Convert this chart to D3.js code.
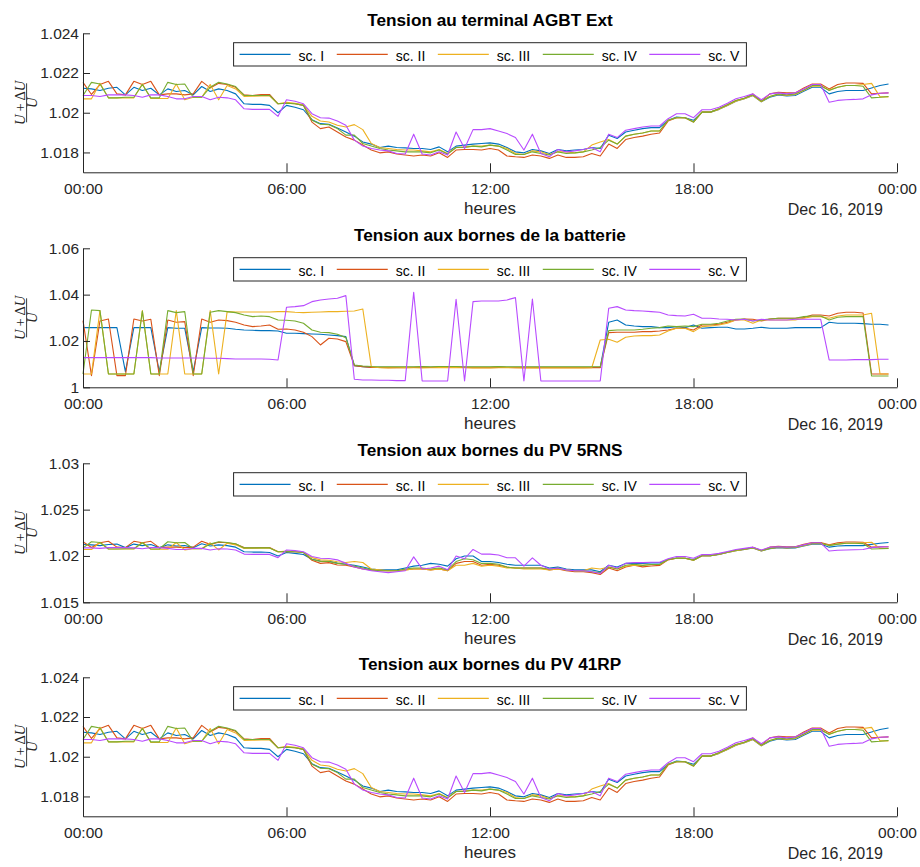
<!DOCTYPE html>
<html><head><meta charset="utf-8">
<script src="https://cdn.jsdelivr.net/npm/d3@7"></script>
<style>body{margin:0;background:#fff}svg{display:block}</style>
</head><body>
<svg id="chart" width="920" height="867"></svg>
<script>
// ---------- labels ----------
const scenarios = ["sc. I", "sc. II", "sc. III", "sc. IV", "sc. V"];
const seriesColors = ["#0072BD", "#D95319", "#EDB120", "#77AC30", "#B84BFF"];
const panelTitles = ["Tension au terminal AGBT Ext", "Tension aux bornes de la batterie",
  "Tension aux bornes du PV 5RNS", "Tension aux bornes du PV 41RP"];
const xTickHours = [0, 6, 12, 18, 24];
const xTickLabels = ["00:00", "06:00", "12:00", "18:00", "00:00"];
const xAxisLabel = "heures";
const dateLabel = "Dec 16, 2019";
const yTicksAGBT = [1.018, 1.02, 1.022, 1.024];
const yTickLabelsAGBT = ["1.018", "1.02", "1.022", "1.024"];
const yTicksBat = [1, 1.02, 1.04, 1.06];
const yTickLabelsBat = ["1", "1.02", "1.04", "1.06"];
const yTicksPV5 = [1.015, 1.02, 1.025, 1.03];
const yTickLabelsPV5 = ["1.015", "1.02", "1.025", "1.03"];
const yDomainAGBT = [1.017, 1.024];
const yDomainBat = [1, 1.06];
const yDomainPV5 = [1.015, 1.03];
const sampleStepMinutes = 15;
const sampleCount = 96;

// ---------- panel 1 : AGBT Ext (also PV 41RP) ----------
const agbt_I = [1.02123,1.02120,1.02112,1.02123,1.02128,1.02090,1.02128,1.02112,1.02123,1.02090,
1.02120,1.02107,1.02112,1.02090,1.02132,1.02107,1.02120,1.02112,1.02095,1.02045,
1.02042,1.02042,1.02037,1.02000,1.02037,1.02028,1.02015,1.01965,1.01945,1.01942,
1.01923,1.01903,1.01882,1.01853,1.01842,1.01825,1.01832,1.01825,1.01823,1.01820,
1.01820,1.01815,1.01828,1.01803,1.01832,1.01837,1.01842,1.01845,1.01848,1.01842,
1.01825,1.01803,1.01798,1.01815,1.01808,1.01795,1.01815,1.01808,1.01812,1.01815,
1.01825,1.01820,1.01887,1.01870,1.01903,1.01912,1.01920,1.01925,1.01925,1.01962,
1.01978,1.01975,1.01962,1.02003,1.02003,1.02017,1.02037,1.02058,1.02070,1.02087,
1.02055,1.02078,1.02090,1.02085,1.02087,1.02108,1.02128,1.02128,1.02095,1.02107,
1.02112,1.02112,1.02112,1.02125,1.02137,1.02145];
const agbt_II = [1.02153,1.02092,1.02142,1.02158,1.02095,1.02090,1.02158,1.02142,1.02158,1.02090,
1.02095,1.02095,1.02090,1.02095,1.02158,1.02125,1.02148,1.02142,1.02128,1.02090,
1.02087,1.02092,1.02092,1.02045,1.02048,1.02045,1.02037,1.01953,1.01920,1.01928,
1.01903,1.01878,1.01862,1.01837,1.01812,1.01798,1.01803,1.01792,1.01787,1.01782,
1.01787,1.01782,1.01798,1.01775,1.01812,1.01815,1.01815,1.01812,1.01820,1.01812,
1.01782,1.01778,1.01775,1.01787,1.01782,1.01770,1.01787,1.01775,1.01775,1.01778,
1.01795,1.01782,1.01842,1.01820,1.01865,1.01875,1.01882,1.01892,1.01898,1.01958,
1.01975,1.01975,1.01953,1.02003,1.02003,1.02020,1.02040,1.02062,1.02073,1.02095,
1.02058,1.02095,1.02103,1.02100,1.02100,1.02125,1.02145,1.02145,1.02120,1.02142,
1.02150,1.02150,1.02148,1.02095,1.02098,1.02100];
const agbt_III = [1.02070,1.02070,1.02148,1.02075,1.02075,1.02075,1.02075,1.02145,1.02072,1.02072,
1.02072,1.02145,1.02065,1.02078,1.02078,1.02142,1.02065,1.02137,1.02120,1.02082,
1.02083,1.02085,1.02085,1.02045,1.02053,1.02048,1.02040,1.01982,1.01958,1.01953,
1.01937,1.01928,1.01940,1.01915,1.01845,1.01825,1.01820,1.01815,1.01812,1.01812,
1.01808,1.01803,1.01815,1.01795,1.01825,1.01828,1.01832,1.01832,1.01837,1.01832,
1.01820,1.01795,1.01790,1.01808,1.01803,1.01790,1.01803,1.01803,1.01798,1.01803,
1.01837,1.01853,1.01865,1.01842,1.01882,1.01892,1.01898,1.01908,1.01908,1.01962,
1.01975,1.01975,1.01953,1.02003,1.02003,1.02017,1.02037,1.02058,1.02070,1.02087,
1.02055,1.02082,1.02092,1.02087,1.02092,1.02112,1.02133,1.02133,1.02115,1.02128,
1.02137,1.02137,1.02142,1.02148,1.02080,1.02080];
const agbt_IV = [1.02087,1.02153,1.02145,1.02075,1.02075,1.02078,1.02078,1.02142,1.02075,1.02075,
1.02153,1.02142,1.02145,1.02078,1.02078,1.02128,1.02153,1.02145,1.02132,1.02087,
1.02087,1.02087,1.02087,1.02045,1.02048,1.02045,1.02037,1.01962,1.01942,1.01940,
1.01920,1.01887,1.01887,1.01845,1.01832,1.01820,1.01812,1.01808,1.01803,1.01803,
1.01803,1.01798,1.01812,1.01792,1.01825,1.01825,1.01832,1.01828,1.01837,1.01832,
1.01812,1.01790,1.01790,1.01803,1.01795,1.01787,1.01803,1.01795,1.01798,1.01803,
1.01812,1.01825,1.01862,1.01842,1.01882,1.01892,1.01898,1.01908,1.01908,1.01962,
1.01975,1.01975,1.01953,1.02003,1.02003,1.02020,1.02040,1.02062,1.02073,1.02090,
1.02058,1.02082,1.02095,1.02090,1.02095,1.02115,1.02137,1.02137,1.02112,1.02128,
1.02137,1.02137,1.02133,1.02075,1.02078,1.02082];
const agbt_V = [1.02087,1.02087,1.02082,1.02090,1.02090,1.02090,1.02087,1.02078,1.02090,1.02090,
1.02082,1.02070,1.02070,1.02082,1.02082,1.02065,1.02078,1.02075,1.02065,1.02020,
1.02017,1.02017,1.02017,1.01982,1.02065,1.02058,1.02045,1.01995,1.01975,1.01973,
1.01958,1.01937,1.01862,1.01832,1.01820,1.01812,1.01808,1.01795,1.01792,1.01892,
1.01792,1.01787,1.01803,1.01787,1.01903,1.01820,1.01915,1.01915,1.01920,1.01908,
1.01895,1.01875,1.01812,1.01892,1.01795,1.01778,1.01815,1.01803,1.01808,1.01815,
1.01825,1.01803,1.01892,1.01875,1.01912,1.01920,1.01928,1.01933,1.01933,1.01970,
1.01995,1.01995,1.01975,1.02015,1.02015,1.02028,1.02048,1.02070,1.02082,1.02095,
1.02065,1.02095,1.02100,1.02095,1.02100,1.02120,1.02142,1.02142,1.02053,1.02062,
1.02065,1.02067,1.02070,1.02090,1.02098,1.02100];

// ---------- panel 2 : batterie ----------
const bat_I = [1.02575,1.02575,1.02575,1.02575,1.02575,1.00676,1.02575,1.02575,1.02575,1.00676,
1.02575,1.02547,1.02547,1.00676,1.02575,1.02561,1.02561,1.02547,1.02504,1.02475,
1.02460,1.02446,1.02446,1.02432,1.02331,1.02331,1.02317,1.02302,1.02288,1.02259,
1.02230,1.02187,1.00935,1.00892,1.00870,1.00865,1.00860,1.00865,1.00860,1.00865,
1.00870,1.00865,1.00870,1.00875,1.00870,1.00865,1.00860,1.00865,1.00860,1.00870,
1.00865,1.00860,1.00860,1.00865,1.00860,1.00860,1.00865,1.00860,1.00860,1.00865,
1.00860,1.00860,1.02806,1.02906,1.02691,1.02647,1.02619,1.02619,1.02575,1.02575,
1.02619,1.02575,1.02691,1.02547,1.02575,1.02590,1.02590,1.02518,1.02518,1.02547,
1.02590,1.02547,1.02547,1.02547,1.02575,1.02575,1.02575,1.02575,1.02806,1.02763,
1.02763,1.02763,1.02748,1.02719,1.02719,1.02691];
const bat_II = [1.02878,1.00504,1.02863,1.02950,1.00504,1.00504,1.02950,1.02863,1.02935,1.00504,
1.02906,1.02806,1.02835,1.00504,1.02950,1.02806,1.02906,1.02878,1.02806,1.02691,
1.02619,1.02647,1.02691,1.02504,1.02518,1.02475,1.02374,1.02187,1.01827,1.02115,
1.02086,1.01971,1.00935,1.00892,1.00860,1.00855,1.00850,1.00855,1.00850,1.00855,
1.00860,1.00855,1.00860,1.00865,1.00860,1.00855,1.00850,1.00855,1.00850,1.00860,
1.00855,1.00850,1.00850,1.00855,1.00850,1.00850,1.00855,1.00850,1.00850,1.00855,
1.00850,1.00850,1.02360,1.02374,1.02374,1.02374,1.02403,1.02403,1.02432,1.02475,
1.02547,1.02547,1.02475,1.02691,1.02691,1.02719,1.02806,1.02906,1.02950,1.02935,
1.02863,1.02950,1.02978,1.02978,1.02978,1.03007,1.03122,1.03122,1.03079,1.03194,
1.03237,1.03237,1.03209,1.00576,1.00576,1.00576];
const bat_III = [1.00576,1.00576,1.03309,1.00576,1.00576,1.00576,1.00576,1.03309,1.00576,1.00576,
1.00576,1.03309,1.00576,1.00576,1.00576,1.03309,1.00576,1.03266,1.03252,1.03252,
1.03252,1.03252,1.03252,1.03266,1.03266,1.03237,1.03223,1.03237,1.03252,1.03266,
1.03266,1.03280,1.03295,1.03381,1.00892,1.00845,1.00840,1.00845,1.00850,1.00845,
1.00840,1.00845,1.00850,1.00855,1.00850,1.00845,1.00840,1.00845,1.00840,1.00845,
1.00850,1.00845,1.00840,1.00840,1.00845,1.00840,1.00840,1.00845,1.00840,1.00840,
1.00845,1.02043,1.02072,1.01942,1.02158,1.02216,1.02230,1.02230,1.02259,1.02432,
1.02547,1.02547,1.02403,1.02619,1.02647,1.02691,1.02763,1.02906,1.02906,1.02763,
1.02906,1.02906,1.02906,1.02906,1.02906,1.02978,1.03050,1.03050,1.02978,1.03079,
1.03122,1.03122,1.03122,1.03194,1.00576,1.00576];
const bat_IV = [1.00576,1.03338,1.03309,1.00576,1.00576,1.00576,1.00576,1.03295,1.00576,1.00576,
1.03309,1.03223,1.03266,1.00576,1.00576,1.03237,1.03309,1.03266,1.03223,1.03122,
1.03050,1.03079,1.03050,1.02906,1.02892,1.02863,1.02763,1.02475,1.02374,1.02360,
1.02288,1.02144,1.00964,1.00921,1.00895,1.00890,1.00885,1.00890,1.00885,1.00890,
1.00895,1.00890,1.00895,1.00900,1.00895,1.00890,1.00885,1.00890,1.00885,1.00895,
1.00890,1.00885,1.00885,1.00890,1.00885,1.00885,1.00890,1.00885,1.00885,1.00890,
1.00885,1.00885,1.02446,1.02475,1.02475,1.02475,1.02504,1.02547,1.02575,1.02647,
1.02619,1.02647,1.02619,1.02719,1.02719,1.02763,1.02863,1.02935,1.02950,1.02863,
1.02906,1.02950,1.02978,1.02978,1.02978,1.03050,1.03079,1.03079,1.02906,1.03022,
1.03050,1.03050,1.03050,1.00489,1.00489,1.00489];
const bat_V = [1.01281,1.01281,1.01281,1.01281,1.01281,1.01281,1.01281,1.01281,1.01281,1.01266,
1.01266,1.01266,1.01266,1.01266,1.01266,1.01252,1.01252,1.01237,1.01223,1.01223,
1.01223,1.01223,1.01209,1.01180,1.03453,1.03482,1.03525,1.03698,1.03770,1.03813,
1.03842,1.03957,1.00345,1.00317,1.00317,1.00302,1.00302,1.00288,1.00288,1.04101,
1.00273,1.00273,1.00273,1.00273,1.03799,1.00273,1.03698,1.03727,1.03727,1.03727,
1.03770,1.03870,1.00273,1.03813,1.00273,1.00273,1.00273,1.00273,1.00273,1.00273,
1.00273,1.00273,1.03410,1.03482,1.03338,1.03309,1.03295,1.03266,1.03237,1.03122,
1.03093,1.03079,1.03151,1.02978,1.02978,1.02950,1.02935,1.02906,1.02935,1.02863,
1.02935,1.02906,1.02906,1.02906,1.02935,1.02935,1.02935,1.02935,1.01180,1.01180,
1.01180,1.01194,1.01194,1.01194,1.01209,1.01209];

// ---------- panel 3 : PV 5RNS ----------
const pv5_I = [1.02123,1.02120,1.02112,1.02123,1.02128,1.02090,1.02128,1.02112,1.02123,1.02090,
1.02120,1.02107,1.02112,1.02090,1.02132,1.02107,1.02120,1.02112,1.02095,1.02045,
1.02042,1.02042,1.02037,1.02000,1.02037,1.02028,1.02015,1.01965,1.01945,1.01942,
1.01923,1.0191,1.0190,1.0188,1.0186,1.0185,1.0185,1.0185,1.0187,1.0189,
1.0190,1.0192,1.0191,1.0189,1.0197,1.0200,1.0200,1.0194,1.0194,1.0193,
1.0191,1.0190,1.0190,1.0190,1.0190,1.0187,1.0188,1.0186,1.0185,1.0185,
1.0185,1.0183,1.0190,1.0188,1.0192,1.0192,1.01920,1.01925,1.01925,1.01962,
1.01978,1.01975,1.01962,1.02003,1.02003,1.02017,1.02037,1.02058,1.02070,1.02087,
1.02055,1.02078,1.02090,1.02085,1.02087,1.02108,1.02128,1.02128,1.02095,1.02107,
1.02112,1.02112,1.02112,1.02125,1.02137,1.02145];
const pv5_II = [1.02153,1.02092,1.02142,1.02158,1.02095,1.02090,1.02158,1.02142,1.02158,1.02090,
1.02095,1.02095,1.02090,1.02095,1.02158,1.02125,1.02148,1.02142,1.02128,1.02090,
1.02087,1.02092,1.02092,1.02045,1.02048,1.02045,1.02037,1.01953,1.01920,1.01928,
1.01903,1.0190,1.0188,1.0186,1.0185,1.0184,1.0184,1.0184,1.0185,1.0186,
1.0186,1.0185,1.0186,1.0184,1.0192,1.0194,1.0194,1.0190,1.0191,1.0190,
1.0188,1.0187,1.0187,1.0187,1.0187,1.0185,1.0186,1.0184,1.0183,1.0183,
1.0182,1.0180,1.0187,1.0184,1.0188,1.0190,1.01882,1.01892,1.01898,1.01958,
1.01975,1.01975,1.01953,1.02003,1.02003,1.02020,1.02040,1.02062,1.02073,1.02095,
1.02058,1.02095,1.02103,1.02100,1.02100,1.02125,1.02145,1.02145,1.02120,1.02142,
1.02150,1.02150,1.02148,1.02095,1.02098,1.02100];
const pv5_III = [1.02070,1.02070,1.02148,1.02075,1.02075,1.02075,1.02075,1.02145,1.02072,1.02072,
1.02072,1.02145,1.02065,1.02078,1.02078,1.02142,1.02065,1.02137,1.02120,1.02082,
1.02083,1.02085,1.02085,1.02045,1.02053,1.02048,1.02040,1.01982,1.01958,1.01953,
1.01937,1.0193,1.0194,1.0193,1.0186,1.0185,1.0184,1.0184,1.0185,1.0186,
1.0186,1.0185,1.0186,1.0184,1.0190,1.0190,1.0192,1.0189,1.0190,1.0189,
1.0187,1.0187,1.0186,1.0186,1.0186,1.0185,1.0186,1.0185,1.0184,1.0184,
1.0187,1.0186,1.0188,1.0186,1.0189,1.0190,1.01898,1.01908,1.01908,1.01962,
1.01975,1.01975,1.01953,1.02003,1.02003,1.02017,1.02037,1.02058,1.02070,1.02087,
1.02055,1.02082,1.02092,1.02087,1.02092,1.02112,1.02133,1.02133,1.02115,1.02128,
1.02137,1.02137,1.02142,1.02148,1.02080,1.02080];
const pv5_IV = [1.02087,1.02153,1.02145,1.02075,1.02075,1.02078,1.02078,1.02142,1.02075,1.02075,
1.02153,1.02142,1.02145,1.02078,1.02078,1.02128,1.02153,1.02145,1.02132,1.02087,
1.02087,1.02087,1.02087,1.02045,1.02048,1.02045,1.02037,1.01962,1.01942,1.01940,
1.01920,1.0191,1.0189,1.0187,1.0185,1.0184,1.0184,1.0184,1.0186,1.0187,
1.0187,1.0186,1.0187,1.0185,1.0194,1.0197,1.0196,1.0192,1.0192,1.0191,
1.0188,1.0187,1.0187,1.0187,1.0187,1.0186,1.0187,1.0185,1.0184,1.0184,
1.0183,1.0182,1.0188,1.0186,1.0190,1.0191,1.01898,1.01908,1.01908,1.01962,
1.01975,1.01975,1.01953,1.02003,1.02003,1.02020,1.02040,1.02062,1.02073,1.02090,
1.02058,1.02082,1.02095,1.02090,1.02095,1.02115,1.02137,1.02137,1.02112,1.02128,
1.02137,1.02137,1.02133,1.02075,1.02078,1.02082];
const pv5_V = [1.02087,1.02087,1.02082,1.02090,1.02090,1.02090,1.02087,1.02078,1.02090,1.02090,
1.02082,1.02070,1.02070,1.02082,1.02082,1.02065,1.02078,1.02075,1.02065,1.02020,
1.02017,1.02017,1.02017,1.01982,1.02065,1.02058,1.02045,1.01995,1.01975,1.01973,
1.01958,1.0192,1.0188,1.0186,1.0184,1.0183,1.0182,1.0183,1.0184,1.0199,
1.0186,1.0187,1.0189,1.0185,1.0200,1.0197,1.0207,1.0202,1.0202,1.0201,
1.0198,1.0198,1.0189,1.0198,1.0190,1.0186,1.0187,1.0185,1.0184,1.0184,
1.0183,1.0181,1.0190,1.0187,1.0192,1.0193,1.01928,1.01933,1.01933,1.01970,
1.01995,1.01995,1.01975,1.02015,1.02015,1.02028,1.02048,1.02070,1.02082,1.02095,
1.02065,1.02095,1.02100,1.02095,1.02100,1.02120,1.02142,1.02142,1.02053,1.02062,
1.02065,1.02067,1.02070,1.02090,1.02098,1.02100];

// ---------- panel config ----------
const panels = [
  {title: panelTitles[0], domain: yDomainAGBT, ticks: yTicksAGBT, tickLabels: yTickLabelsAGBT,
   series: [agbt_I, agbt_II, agbt_III, agbt_IV, agbt_V]},
  {title: panelTitles[1], domain: yDomainBat, ticks: yTicksBat, tickLabels: yTickLabelsBat,
   series: [bat_I, bat_II, bat_III, bat_IV, bat_V]},
  {title: panelTitles[2], domain: yDomainPV5, ticks: yTicksPV5, tickLabels: yTickLabelsPV5,
   series: [pv5_I, pv5_II, pv5_III, pv5_IV, pv5_V]},
  {title: panelTitles[3], domain: yDomainAGBT, ticks: yTicksAGBT, tickLabels: yTickLabelsAGBT,
   series: [agbt_I, agbt_II, agbt_III, agbt_IV, agbt_V]}
];

// ---------- layout ----------
const axLeft = 83, axRight = 897, axH = 139;
const panelTops = [33.3, 248.3, 463.3, 677.3];
const axisColor = "#262626";
const FONT = "'Liberation Sans', Arial, Helvetica, sans-serif";

const t0 = new Date(2019, 11, 16, 0, 0);
const t1 = new Date(2019, 11, 17, 0, 0);
const times = d3.range(sampleCount).map(i => new Date(t0.getTime() + i * sampleStepMinutes * 60000));
const x = d3.scaleTime().domain([t0, t1]).range([axLeft, axRight]);
const xTickDates = xTickHours.map(h => new Date(t0.getTime() + h * 3600000));

const svg = d3.select("#chart");
svg.append("rect").attr("width", 920).attr("height", 867).attr("fill", "#fff");

panels.forEach((p, pi) => {
  const top = panelTops[pi], bottom = top + axH;
  const y = d3.scaleLinear().domain(p.domain).range([bottom, top]);
  const g = svg.append("g");

  // lines
  const line = d3.line().x((d, i) => x(times[i])).y(d => y(d));
  p.series.forEach((s, si) => {
    g.append("path").datum(s).attr("d", line)
      .attr("fill", "none").attr("stroke", seriesColors[si])
      .attr("stroke-width", 1.1).attr("stroke-linejoin", "round");
  });

  // x axis
  const xa = g.append("g").attr("transform", `translate(0,${bottom})`)
    .call(d3.axisBottom(x).tickValues(xTickDates)
      .tickFormat((d, i) => xTickLabels[i]).tickSizeInner(-9).tickSizeOuter(0).tickPadding(11));
  // y axis
  const ya = g.append("g").attr("transform", `translate(${axLeft},0)`)
    .call(d3.axisLeft(y).tickValues(p.ticks)
      .tickFormat((d, i) => p.tickLabels[i]).tickSizeInner(-7).tickSizeOuter(0).tickPadding(4));
  [xa, ya].forEach(a => {
    a.attr("font-family", FONT).attr("font-size", 15.5);
    a.selectAll("path.domain").attr("stroke", axisColor).attr("stroke-width", 1);
    a.selectAll(".tick line").attr("stroke", axisColor).attr("stroke-width", 1);
    a.selectAll(".tick text").attr("fill", axisColor);
  });

  // title
  g.append("text").attr("x", (axLeft + axRight) / 2).attr("y", top - 7)
    .attr("text-anchor", "middle").attr("font-family", FONT)
    .attr("font-weight", "bold").attr("font-size", 17.2).attr("fill", "#000")
    .text(p.title);

  // x label + date
  g.append("text").attr("x", (axLeft + axRight) / 2).attr("y", bottom + 42)
    .attr("text-anchor", "middle").attr("font-family", FONT).attr("font-size", 17)
    .attr("fill", axisColor).text(xAxisLabel);
  g.append("text").attr("x", 883).attr("y", bottom + 43)
    .attr("text-anchor", "end").attr("font-family", FONT).attr("font-size", 16)
    .attr("fill", axisColor).text(dateLabel);

  // y label: (U + ΔU) / U
  const yl = g.append("g").attr("transform", `translate(0,${(top + bottom) / 2}) rotate(-90)`)
    .attr("font-family", "'Liberation Serif', 'Times New Roman', serif").attr("font-size", 14.5)
    .attr("fill", axisColor);
  const num = yl.append("text").attr("x", 0).attr("y", 24.5).attr("text-anchor", "middle");
  num.append("tspan").attr("font-style", "italic").text("U");
  num.append("tspan").text("\u2009+\u2009\u0394");
  num.append("tspan").attr("font-style", "italic").text("U");
  yl.append("line").attr("x1", -19.5).attr("x2", 19.5).attr("y1", 26.6).attr("y2", 26.6)
    .attr("stroke", axisColor).attr("stroke-width", 0.9);
  yl.append("text").attr("x", 0).attr("y", 36.5).attr("text-anchor", "middle")
    .attr("font-style", "italic").text("U");

  // legend
  const lg = g.append("g");
  const boxTop = top + 9.4, boxH = 23.3, lineLen = 51, textOff = 59, gap = 12.5, pad = 6;
  const tmp = lg.append("g").attr("font-family", FONT).attr("font-size", 14);
  const widths = scenarios.map(s => {
    const t = tmp.append("text").text(s);
    const w = t.node().getComputedTextLength();
    t.remove();
    return w;
  });
  tmp.remove();
  const entryW = widths.map(w => textOff + w);
  const totalW = pad * 2 + d3.sum(entryW) + gap * (scenarios.length - 1) + 1;
  const boxLeft = (axLeft + axRight) / 2 - totalW / 2;
  lg.append("rect").attr("x", boxLeft).attr("y", boxTop).attr("width", totalW).attr("height", boxH)
    .attr("fill", "#fff").attr("stroke", axisColor).attr("stroke-width", 1);
  let cx = boxLeft + pad;
  scenarios.forEach((s, si) => {
    const cy = boxTop + boxH / 2;
    lg.append("line").attr("x1", cx).attr("x2", cx + lineLen).attr("y1", cy).attr("y2", cy)
      .attr("stroke", seriesColors[si]).attr("stroke-width", 1.1);
    lg.append("text").attr("x", cx + textOff).attr("y", boxTop + 18.2)
      .attr("font-family", FONT).attr("font-size", 14).attr("fill", "#000").text(s);
    cx += entryW[si] + gap;
  });
});
</script>
</body></html>
